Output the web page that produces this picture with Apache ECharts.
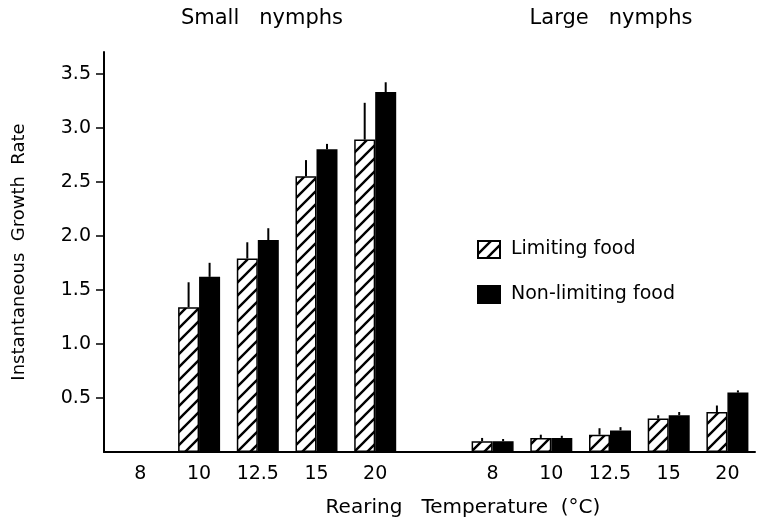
<!DOCTYPE html>
<html>
<head>
<meta charset="utf-8">
<script src="https://cdn.jsdelivr.net/npm/echarts@6/dist/echarts.min.js"></script>
<style>html,body{margin:0;padding:0;background:#fff}#c{width:760px;height:521px}</style>
</head>
<body>
<div id="c"></div>
<script>
// Temperature categories (small nymphs, gap, large nymphs)
const categories = ['8', '10', '12.5', '15', '20', '', '8', '10', '12.5', '15', '20'];
// Instantaneous growth rate, limiting food
const limiting = [null, 1.34, 1.79, 2.55, 2.89, null, 0.10, 0.13, 0.16, 0.31, 0.37];
const limitingErrTop = [null, 1.57, 1.94, 2.70, 3.23, null, 0.13, 0.16, 0.22, 0.34, 0.43];
// Instantaneous growth rate, non-limiting food
const nonLimiting = [null, 1.62, 1.96, 2.80, 3.33, null, 0.10, 0.13, 0.20, 0.34, 0.55];
const nonLimitingErrTop = [null, 1.75, 2.07, 2.85, 3.42, null, 0.12, 0.15, 0.23, 0.37, 0.57];
const yTicks = [0.5, 1.0, 1.5, 2.0, 2.5, 3.0, 3.5];

const FONT = 'DejaVu Sans';
const BAR_W = 21;

function hatch() {
  const s = 13;
  const c = document.createElement('canvas');
  c.width = s; c.height = s;
  const g = c.getContext('2d');
  g.fillStyle = '#fff'; g.fillRect(0, 0, s, s);
  g.strokeStyle = '#000'; g.lineWidth = 2.4;
  g.beginPath();
  g.moveTo(-1, s + 1); g.lineTo(s + 1, -1);
  g.moveTo(-2, 2); g.lineTo(2, -2);
  g.moveTo(s - 2, s + 2); g.lineTo(s + 2, s - 2);
  g.stroke();
  return c;
}
const hatchPattern = { image: hatch(), repeat: 'repeat' };

const xIdx = categories.map((c, i) => i).filter(i => categories[i] !== '');
const toPairs = arr => arr.map((v, i) => [i, v]).filter(p => p[1] != null);
const errData = [];
limiting.forEach((v, i) => { if (v != null) errData.push([i, v, limitingErrTop[i], -1]); });
nonLimiting.forEach((v, i) => { if (v != null) errData.push([i, v, nonLimitingErrTop[i], 1]); });

const chart = echarts.init(document.getElementById('c'), null, { renderer: 'canvas' });
chart.setOption({
  animation: false,
  backgroundColor: '#fff',
  textStyle: { fontFamily: FONT, color: '#000' },
  grid: { left: 104, right: 5, top: 52, bottom: 69, containLabel: false },
  xAxis: {
    type: 'value',
    min: -0.62, max: 10.47,
    splitLine: { show: false },
    axisLine: { show: true, onZero: false, lineStyle: { color: '#000', width: 2 } },
    axisTick: { show: false },
    axisLabel: {
      customValues: xIdx,
      formatter: v => categories[Math.round(v)],
      fontFamily: FONT, fontSize: 19, color: '#000', margin: 13
    }
  },
  yAxis: {
    type: 'value',
    min: 0, max: 3.7,
    name: 'Instantaneous  Growth  Rate',
    nameLocation: 'middle',
    nameRotate: 90,
    nameGap: 76,
    nameTextStyle: { fontFamily: FONT, fontSize: 18, color: '#000' },
    splitLine: { show: false },
    axisLine: { show: true, onZero: false, lineStyle: { color: '#000', width: 2 } },
    axisTick: { show: true, customValues: yTicks, length: 8, lineStyle: { color: '#000', width: 1.5 } },
    axisLabel: {
      customValues: yTicks,
      formatter: v => v.toFixed(1),
      fontFamily: FONT, fontSize: 19, color: '#000', margin: 13
    }
  },
  legend: {
    orient: 'vertical',
    left: 477, top: 240,
    padding: 0,
    icon: 'rect',
    itemWidth: 22, itemHeight: 17,
    itemGap: 26,
    data: ['Limiting food', 'Non-limiting food'],
    textStyle: { fontFamily: FONT, fontSize: 19, color: '#000', padding: [0, 0, 0, 6] }
  },
  graphic: [
    { type: 'text', x: 262, y: 19, style: { text: 'Small   nymphs', font: '21px "DejaVu Sans"', fill: '#000', align: 'center', verticalAlign: 'middle' } },
    { type: 'text', x: 611, y: 19, style: { text: 'Large   nymphs', font: '21px "DejaVu Sans"', fill: '#000', align: 'center', verticalAlign: 'middle' } },
    { type: 'text', x: 463, y: 508, style: { text: 'Rearing   Temperature  (°C)', font: '20px "DejaVu Sans"', fill: '#000', align: 'center', verticalAlign: 'middle' } }
  ],
  series: [
    {
      name: 'Limiting food', type: 'bar', barWidth: BAR_W, barGap: '0%',
      data: toPairs(limiting),
      itemStyle: { color: hatchPattern, borderColor: '#000', borderWidth: 1.5 }
    },
    {
      name: 'Non-limiting food', type: 'bar', barWidth: BAR_W, barGap: '0%',
      data: toPairs(nonLimiting),
      itemStyle: { color: '#000', borderColor: '#000', borderWidth: 1.5 }
    },
    {
      name: 'err', type: 'custom',
      data: errData,
      encode: { x: 0, y: [1, 2] },
      z: 5,
      renderItem: (params, api) => {
        const lo = api.coord([api.value(0), api.value(1)]);
        const hi = api.coord([api.value(0), api.value(2)]);
        const x = lo[0] + api.value(3) * BAR_W / 2;
        return { type: 'line', shape: { x1: x, y1: lo[1], x2: x, y2: hi[1] }, style: { stroke: '#000', lineWidth: 2 } };
      }
    }
  ]
});
</script>
</body>
</html>
